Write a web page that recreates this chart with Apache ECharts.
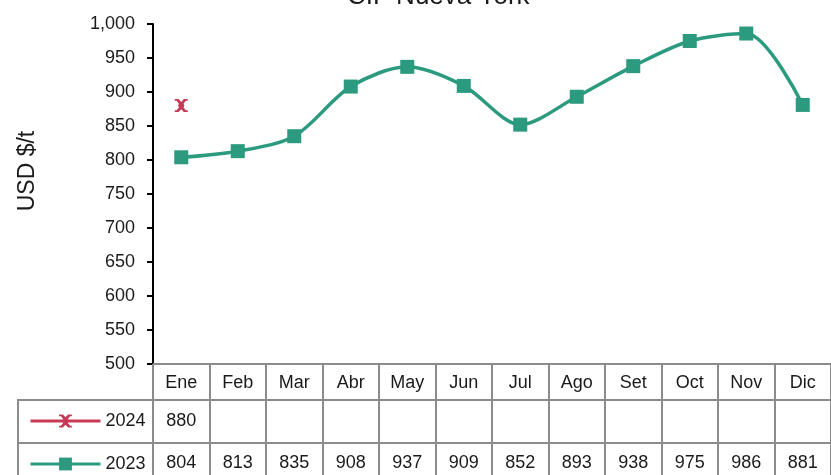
<!DOCTYPE html>
<html>
<head>
<meta charset="utf-8">
<script src="https://cdn.jsdelivr.net/npm/echarts@6/dist/echarts.min.js"></script>
<style>
  html, body { margin: 0; padding: 0; background: #fff; }
  #main { width: 831px; height: 475px; }
</style>
</head>
<body>
<div id="main"></div>
<script>
// datos
const meses = ['Ene', 'Feb', 'Mar', 'Abr', 'May', 'Jun', 'Jul', 'Ago', 'Set', 'Oct', 'Nov', 'Dic'];
const v2024 = [880, null, null, null, null, null, null, null, null, null, null, null];
const v2023 = [804, 813, 835, 908, 937, 909, 852, 893, 938, 975, 986, 881];
const yTicks = [500, 550, 600, 650, 700, 750, 800, 850, 900, 950, 1000];

const FONT = '"Liberation Sans", Arial, sans-serif';
const GRIS = '#8c8c8c';
const VERDE = '#2b9a7e';
const ROJO = '#c73a57';
const TXT = '#1a1a1a';
// marcador tipo asterisco (X gruesa con remates)
const STAR = 'path://M1.5,0 L4.2,0 L6,2.6 L7.8,0 L10.5,0 L10.5,1.6 L9.2,1.6 L7.6,4.3 L8.2,6 L7.6,7.7 L9.2,10.4 L10.5,10.4 L10.5,12 L7.8,12 L6,9.4 L4.2,12 L1.5,12 L1.5,10.4 L2.8,10.4 L4.4,7.7 L3.8,6 L4.4,4.3 L2.8,1.6 L1.5,1.6 Z';

const chart = echarts.init(document.getElementById('main'));

function fmt(v) {
  return v == null ? '' : String(v);
}

const option = {
  animation: false,
  textStyle: { fontFamily: FONT },
  title: {
    text: 'CIF Nueva York',
    left: 347,
    top: -16,
    padding: 0,
    textStyle: { fontFamily: FONT, fontSize: 26, fontWeight: 'normal', color: TXT }
  },
  legend: {
    data: ['2024', '2023'],
    orient: 'vertical',
    left: 29,
    top: 412,
    padding: 0,
    itemWidth: 70,
    itemHeight: 16,
    itemGap: 25,
    selectedMode: false,
    lineStyle: { width: 3 },
    textStyle: { fontFamily: FONT, fontSize: 18, color: TXT, lineHeight: 18 }
  },
  grid: { left: 153, top: 24, width: 690, height: 340 },
  xAxis: [
    {
      type: 'category',
      data: meses,
      position: 'bottom',
      boundaryGap: true,
      axisLine: { lineStyle: { color: GRIS, width: 2 } },
      axisTick: { show: true, interval: 0, length: 125, lineStyle: { color: GRIS, width: 2 } },
      axisLabel: { interval: 0, margin: 10, fontSize: 18, color: TXT, fontFamily: FONT }
    },
    {
      type: 'category',
      data: meses,
      position: 'bottom',
      offset: 36,
      axisLine: { lineStyle: { color: GRIS, width: 2 } },
      axisTick: { show: false },
      axisLabel: { interval: 0, margin: 12, fontSize: 18, color: TXT, fontFamily: FONT,
        formatter: (v, i) => fmt(v2024[i]) }
    },
    {
      type: 'category',
      data: meses,
      position: 'bottom',
      offset: 79,
      axisLine: { lineStyle: { color: GRIS, width: 2 } },
      axisTick: { show: false },
      axisLabel: { interval: 0, margin: 11, fontSize: 18, color: TXT, fontFamily: FONT,
        formatter: (v, i) => fmt(v2023[i]) }
    }
  ],
  yAxis: {
    type: 'value',
    min: yTicks[0],
    max: yTicks[yTicks.length - 1],
    interval: 50,
    name: 'USD $/t',
    nameLocation: 'middle',
    nameGap: 114,
    nameTextStyle: { fontFamily: FONT, fontSize: 23, color: TXT, padding: [0, 0, 0, 46] },
    axisLine: { show: true, lineStyle: { color: '#000', width: 2 } },
    axisTick: { show: true, length: 6, lineStyle: { color: '#000', width: 2 } },
    splitLine: { show: false },
    axisLabel: {
      margin: 18, fontSize: 18, color: TXT, fontFamily: FONT,
      formatter: v => v.toLocaleString('en-US')
    }
  },
  series: [
    {
      name: '2024',
      type: 'line',
      data: v2024,
      symbol: STAR,
      symbolSize: 13,
      itemStyle: { color: ROJO },
      lineStyle: { color: ROJO, width: 3 }
    },
    {
      name: '2023',
      type: 'line',
      data: v2023,
      smooth: 0.3,
      symbol: 'rect',
      symbolSize: 14,
      itemStyle: { color: VERDE },
      lineStyle: { color: VERDE, width: 3.5 }
    }
  ],
  graphic: [
    {
      type: 'rect',
      shape: { x: 18, y: 400, width: 135, height: 100 },
      style: { fill: 'none', stroke: GRIS, lineWidth: 2 },
      z: 1
    },
    {
      type: 'line',
      shape: { x1: 18, y1: 443, x2: 153, y2: 443 },
      style: { stroke: GRIS, lineWidth: 2 },
      z: 1
    }
  ]
};

chart.setOption(option);
</script>
</body>
</html>
